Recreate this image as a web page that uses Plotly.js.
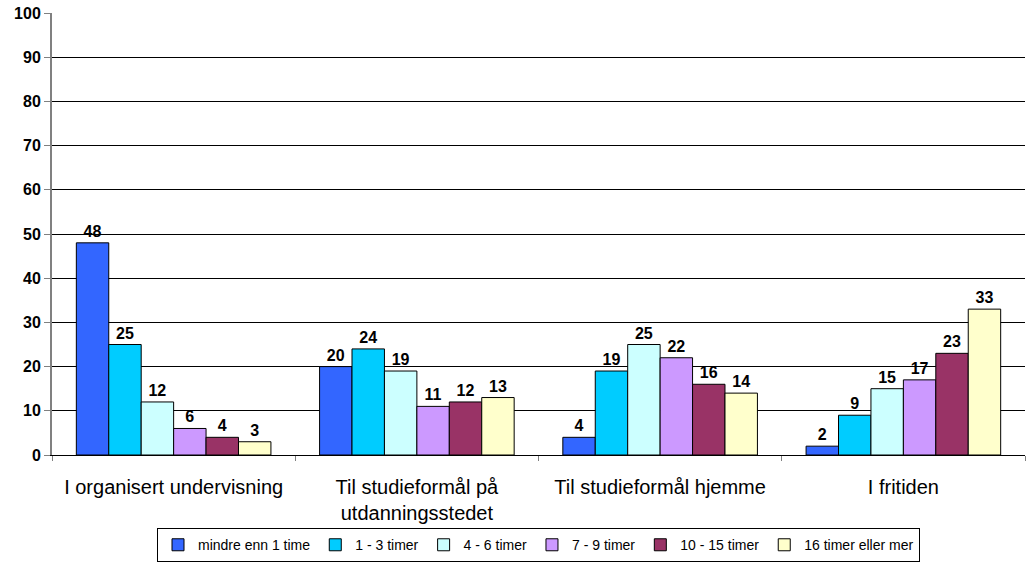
<!DOCTYPE html>
<html><head><meta charset="utf-8">
<script src="https://cdn.plot.ly/plotly-3.0.1.min.js"></script>
<style>body{margin:0;background:#fff}#c{width:1031px;height:569px}</style>
</head><body><div id="c"></div>
<script>
const categories = ["I organisert undervisning", "Til studieformål på<br>utdanningsstedet", "Til studieformål hjemme", "I fritiden"];
const seriesNames = ["mindre enn 1 time", "1 - 3 timer", "4 - 6 timer", "7 - 9 timer", "10 - 15 timer", "16 timer eller mer"];
const s1 = [48, 20, 4, 2];
const s2 = [25, 24, 19, 9];
const s3 = [12, 19, 25, 15];
const s4 = [6, 11, 22, 17];
const s5 = [4, 12, 16, 23];
const s6 = [3, 13, 14, 33];
const colors = ["#3366FF", "#00CCFF", "#CCFFFF", "#CC99FF", "#993366", "#FFFFCC"];
const yTicks = [0,10,20,30,40,50,60,70,80,90,100];

const FONT = '"Liberation Sans", Arial, sans-serif';
const all = [s1,s2,s3,s4,s5,s6];
const traces = all.map((vals,i)=>({
  type:'bar', name: seriesNames[i], x: categories, y: vals,
  marker:{color: colors[i], line:{color:'#000', width:1}},
  text: vals.map(String), textposition:'outside', cliponaxis:false,
  textfont:{family:FONT, size:16, color:'#000', weight:'bold'}
}));
Plotly.newPlot('c', traces, {
  width:1031, height:569,
  margin:{l:52, r:6, t:13, b:114},
  barmode:'group', bargap:0.2, bargroupgap:0,
  paper_bgcolor:'#fff', plot_bgcolor:'#fff',
  font:{family:FONT, color:'#000'},
  xaxis:{type:'category', tickson:'boundaries', ticks:'outside', ticklen:5, tickcolor:'#808080',
    showline:true, linecolor:'#000', linewidth:1, showgrid:false, ticklabelstandoff:14,
    tickfont:{size:20, family:FONT}},
  yaxis:{range:[0,100], tickvals:yTicks, ticktext:yTicks.map(String), ticks:'outside', ticklen:6, tickcolor:'#808080',
    showline:true, linecolor:'#808080', linewidth:2, gridcolor:'#000', gridwidth:1, zeroline:false,
    tickfont:{size:16, family:FONT, weight:'bold'}},
  legend:{orientation:'h', x:0.5, xanchor:'center', y:-0.204, yanchor:'middle',
    bordercolor:'#000', borderwidth:1, font:{size:14, family:FONT},
    itemwidth:30, tracegroupgap:0},
  showlegend:true
}, {displayModeBar:false, staticPlot:true});
</script></body></html>
